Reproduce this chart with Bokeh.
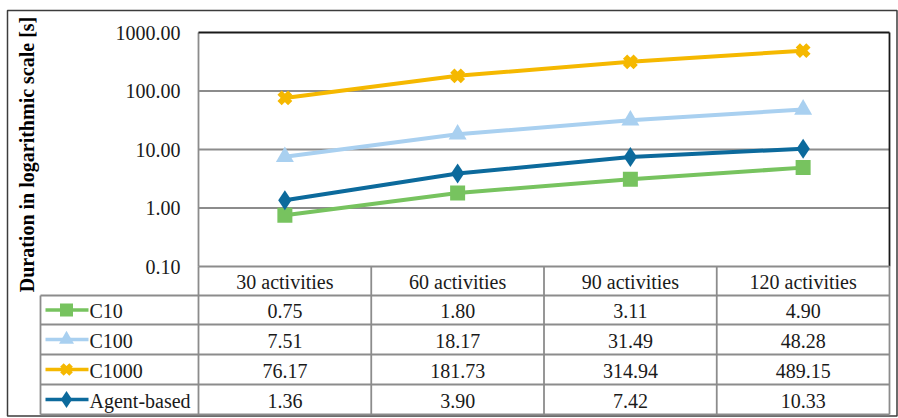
import math

from bokeh.core.properties import value
from bokeh.embed import file_html
from bokeh.models import LogScale, Range1d
from bokeh.plotting import figure
from bokeh.resources import INLINE

# ---- data -------------------------------------------------------------
categories = ["30 activities", "60 activities", "90 activities", "120 activities"]
series_names = ["C10", "C100", "C1000", "Agent-based"]
c10 = [0.75, 1.80, 3.11, 4.90]
c100 = [7.51, 18.17, 31.49, 48.28]
c1000 = [76.17, 181.73, 314.94, 489.15]
agent_based = [1.36, 3.90, 7.42, 10.33]
y_ticks = [0.1, 1, 10, 100, 1000]
y_title = "Duration in logarithmic scale [s]"

# ---- layout (canvas pixels, measured from the top-left) ----------------
W, H = 898, 418
PL, PR, PT, PB = 198, 889, 32, 266          # plot area
LEG_L = 40                                   # left edge of legend column
ROW_EDGES = [266, 295, 324, 354, 384, 414]   # table row boundaries
FONT = value("Liberation Serif")
FS = "20px"
GRID = "#8c8c8c"
INK = "#1a1a1a"

styles = {
    "C10": dict(color="#77c35f", marker="square", size=15, line_width=0, key=13, key_lw=0),
    "C100": dict(color="#a9d0f0", marker="triangle", size=18, line_width=0, key=15, key_lw=0),
    "C1000": dict(color="#f5b800", marker="x", size=15, line_width=6, key=13, key_lw=5),
    "Agent-based": dict(color="#0c6a9c", marker="diamond", size=20, line_width=0, key=17, key_lw=0),
}
values_by_series = dict(zip(series_names, [c10, c100, c1000, agent_based]))

p = figure(
    width=W, height=H,
    x_range=Range1d(0, W), y_range=Range1d(H, 0),
    min_border=0, toolbar_location=None, output_backend="svg",
    outline_line_color=None, background_fill_color="white",
    border_fill_color="white",
)
p.axis.visible = False
p.grid.visible = False

# log scale for durations: 0.1 sits on PB, 1000 on PT
lo_dec, hi_dec = math.log10(y_ticks[0]), math.log10(y_ticks[-1])
px_per_dec = (PB - PT) / (hi_dec - lo_dec)
p.extra_y_ranges = {"dur": Range1d(10 ** (lo_dec - (H - PB) / px_per_dec),
                                   10 ** (hi_dec + PT / px_per_dec))}
p.extra_y_scales = {"dur": LogScale()}

# categorical positions: category i occupies [i, i+1]
cw = (PR - PL) / len(categories)
p.extra_x_ranges = {"cat": Range1d(-PL / cw, (W - PL) / cw)}
n = len(categories)
centers = [i + 0.5 for i in range(n)]

# outer chart border
p.quad(left=7, right=896.5, top=10, bottom=415.5, fill_color=None,
       line_color="#3c3c3c", line_width=1.5)

# horizontal gridlines at the inner decades
inner = y_ticks[1:-1]
p.segment(x0=[0] * len(inner), x1=[n] * len(inner), y0=inner, y1=inner,
          x_range_name="cat", y_range_name="dur", line_color=GRID, line_width=1.8)

# plot-area frame: gray axis on the left, dark top and right edges
p.segment(x0=[0], x1=[0], y0=[y_ticks[0]], y1=[y_ticks[-1]],
          x_range_name="cat", y_range_name="dur", line_color=GRID, line_width=1.8)
p.segment(x0=[0, n], x1=[n, n], y0=[y_ticks[-1], y_ticks[-1]], y1=[y_ticks[-1], y_ticks[0]],
          x_range_name="cat", y_range_name="dur", line_color=INK, line_width=1.8)

# y tick labels
p.text(x=[PL - 18] * len(y_ticks), y=y_ticks, text=[f"{t:.2f}" for t in y_ticks],
       y_range_name="dur", text_align="right", text_baseline="middle",
       text_font=FONT, text_font_size=FS, text_color=INK)

# y axis title
p.text(x=[26], y=[154], text=[y_title], angle=math.pi / 2,
       text_align="center", text_baseline="middle", text_font=FONT,
       text_font_size=FS, text_font_style="bold", text_color="black")

# series
for name in series_names:
    st = styles[name]
    vals = values_by_series[name]
    p.line(x=centers, y=vals, x_range_name="cat", y_range_name="dur",
           line_color=st["color"], line_width=4, line_join="round")
    p.scatter(x=centers, y=vals, x_range_name="cat", y_range_name="dur",
              marker=st["marker"], size=st["size"], fill_color=st["color"],
              line_color=st["color"], line_width=st["line_width"])

# ---- data table ---------------------------------------------------------
top, bottom = ROW_EDGES[0], ROW_EDGES[-1]
# horizontal rules
p.segment(x0=[PL], x1=[PR], y0=[top], y1=[top], line_color=GRID, line_width=1.8)
p.segment(x0=[LEG_L] * (len(ROW_EDGES) - 1), x1=[PR] * (len(ROW_EDGES) - 1),
          y0=ROW_EDGES[1:], y1=ROW_EDGES[1:], line_color=GRID, line_width=1.8)
# vertical rules
p.segment(x0=list(range(n + 1)), x1=list(range(n + 1)),
          y0=[top] * (n + 1), y1=[bottom] * (n + 1),
          x_range_name="cat", line_color=GRID, line_width=1.8)
p.segment(x0=[LEG_L], x1=[LEG_L], y0=[ROW_EDGES[1]], y1=[bottom],
          line_color=GRID, line_width=1.8)

row_mid = [(a + b) / 2 for a, b in zip(ROW_EDGES[:-1], ROW_EDGES[1:])]

# header row
p.text(x=centers, y=[row_mid[0] + 1] * n, text=categories, x_range_name="cat",
       text_align="center", text_baseline="middle", text_font=FONT,
       text_font_size=FS, text_color=INK)

# one row per series: legend key, name and values
for r, name in enumerate(series_names):
    st = styles[name]
    ym = row_mid[r + 1]
    p.line(x=[45, 88], y=[ym, ym], line_color=st["color"], line_width=3.5)
    p.scatter(x=[66], y=[ym], marker=st["marker"], size=st["key"],
              fill_color=st["color"], line_color=st["color"],
              line_width=st["key_lw"])
    p.text(x=[89], y=[ym + 1], text=[name], text_align="left",
           text_baseline="middle", text_font=FONT, text_font_size=FS,
           text_color=INK)
    p.text(x=centers, y=[ym + 1] * n, text=[f"{v:.2f}" for v in values_by_series[name]],
           x_range_name="cat", text_align="center", text_baseline="middle",
           text_font=FONT, text_font_size=FS, text_color=INK)

open("out.html", "w").write(file_html(p, INLINE))
